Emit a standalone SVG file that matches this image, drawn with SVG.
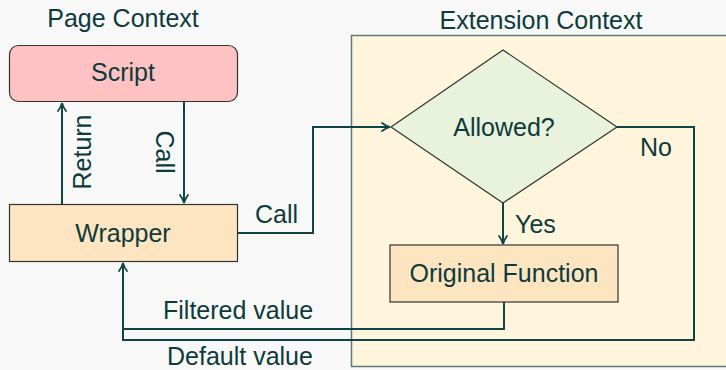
<svg xmlns="http://www.w3.org/2000/svg" width="726" height="370" viewBox="0 0 726 370">
<defs>
<style>
text{font-family:"Liberation Sans",Arial,sans-serif;font-size:25px;fill:#0d3b3b}
.c{text-anchor:middle}
.node{stroke:#333;stroke-width:1.2}
.edge{fill:none;stroke:#0f4545;stroke-width:2}
</style>
<marker id="ah" viewBox="0 0 10 10" refX="9" refY="5" markerWidth="10" markerHeight="10" markerUnits="userSpaceOnUse" orient="auto">
<path d="M1,1 Q5,4 9,5 Q5,6 1,9" fill="none" stroke="#0f4545" stroke-width="1.8" stroke-linecap="round"/>
</marker>
</defs>
<rect width="726" height="370" fill="#f8f8f8"/>
<g id="extension-context">
<rect x="351.5" y="35.5" width="390" height="331" fill="#fff4dc" stroke="#5b7b78" stroke-width="1.5"/>
<text class="c" x="541" y="29">Extension Context</text>
</g>
<g id="page-context">
<text class="c" x="123" y="27">Page Context</text>
</g>
<g id="script">
<rect class="node" x="9.5" y="45.5" width="228" height="56" rx="9" fill="#ffc2c2"/>
<text class="c" x="123" y="81">Script</text>
</g>
<g id="wrapper">
<rect class="node" x="9.5" y="204.5" width="228" height="57" fill="#fde5c2"/>
<text class="c" x="123" y="242">Wrapper</text>
</g>
<g id="allowed">
<polygon class="node" points="391,127 503,50 617,127 503,203" fill="#e9f2dc"/>
<text class="c" x="504" y="136">Allowed?</text>
</g>
<g id="original-function">
<rect class="node" x="390" y="245" width="228" height="57" fill="#fde5c2"/>
<text class="c" x="504" y="282">Original Function</text>
</g>
<g id="connectors">
<path class="edge" d="M62,204 V103" marker-end="url(#ah)"/>
<text class="c" transform="translate(91,152) rotate(-90)">Return</text>
<path class="edge" d="M184,102 V203" marker-end="url(#ah)"/>
<text class="c" transform="translate(156,152) rotate(90)">Call</text>
<path class="edge" d="M238,233 H313 V127 H390" marker-end="url(#ah)"/>
<text x="255" y="223">Call</text>
<path class="edge" d="M503,203 V244" marker-end="url(#ah)"/>
<text x="515" y="233">Yes</text>
<path class="edge" d="M617,127 H694 V340 H123 V263" marker-end="url(#ah)"/>
<text x="640" y="156">No</text>
<path class="edge" d="M504,302 V329 H123"/>
<text x="163" y="319">Filtered value</text>
<text x="167" y="365">Default value</text>
</g>
</svg>
